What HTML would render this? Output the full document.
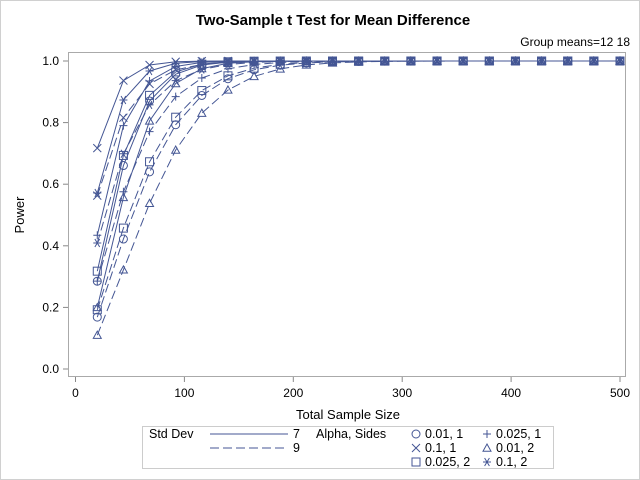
<!DOCTYPE html>
<html><head><meta charset="utf-8"><style>
body{margin:0;background:#fff}
svg{display:block;font-family:"Liberation Sans",Arial,sans-serif}
</style></head><body>
<svg id="s" width="640" height="480" xmlns="http://www.w3.org/2000/svg">
<rect x="0.5" y="0.5" width="639" height="479" fill="#fff" stroke="#d0d0d0"/>
<text x="333" y="25" text-anchor="middle" font-size="15" font-weight="bold">Two-Sample t Test for Mean Difference</text>
<text x="630" y="46" text-anchor="end" font-size="12">Group means=12 18</text>
<rect x="68.5" y="52.5" width="557" height="324" fill="none" stroke="#aaa"/>
<g id="ax" font-size="12" fill="#000"></g>
<text x="348" y="419" text-anchor="middle" font-size="13">Total Sample Size</text>
<text x="24" y="215" text-anchor="middle" font-size="13" transform="rotate(-90 24 215)">Power</text>
<g id="plot" fill="none" stroke="#445694" stroke-width="1"></g>
<rect x="142.5" y="426.5" width="411" height="42" fill="none" stroke="#ccc"/>
<g font-size="12.5">
<text x="149" y="438">Std Dev</text>
<line x1="210" y1="434" x2="288" y2="434" stroke="#445694"/>
<text x="293" y="438">7</text>
<line x1="210" y1="448" x2="288" y2="448" stroke="#445694" stroke-dasharray="9,4"/>
<text x="293" y="452">9</text>
<text x="316" y="438">Alpha, Sides</text>
<text x="425" y="438">0.01, 1</text>
<text x="496" y="438">0.025, 1</text>
<text x="425" y="452">0.1, 1</text>
<text x="496" y="452">0.01, 2</text>
<text x="425" y="466">0.025, 2</text>
<text x="496" y="466">0.1, 2</text>
</g>
<g id="leg" fill="none" stroke="#445694"></g>
</svg>
<script>
var NS="http://www.w3.org/2000/svg";
function el(p,t,a){var e=document.createElementNS(NS,t);for(var k in a)e.setAttribute(k,a[k]);p.appendChild(e);return e;}
var ax=document.getElementById('ax'),pl=document.getElementById('plot'),lg=document.getElementById('leg');
function X(v){return 75.5+v*1.089;}function Y(p){return 369-p*308;}
[0,100,200,300,400,500].forEach(function(v){el(ax,'line',{x1:X(v),y1:377,x2:X(v),y2:382,stroke:'#888'});var t=el(ax,'text',{x:X(v),y:397,'text-anchor':'middle'});t.textContent=v;});
[0,0.2,0.4,0.6,0.8,1].forEach(function(v){el(ax,'line',{x1:63,y1:Y(v),x2:68,y2:Y(v),stroke:'#888'});var t=el(ax,'text',{x:59,y:Y(v)+4,'text-anchor':'end'});t.textContent=v.toFixed(1);});
function Phi(x){var t=1/(1+0.2316419*Math.abs(x));var d=0.3989423*Math.exp(-x*x/2);var p=d*t*(0.3193815+t*(-0.3565638+t*(1.781478+t*(-1.821256+t*1.330274))));return x>0?1-p:p;}
function mk(g,type,x,y){var r=4;
if(type=='o')el(g,'circle',{cx:x,cy:y,r:r});
else if(type=='+'){el(g,'path',{d:'M'+(x-r)+' '+y+'H'+(x+r)+'M'+x+' '+(y-r)+'V'+(y+r)});}
else if(type=='x'){el(g,'path',{d:'M'+(x-r)+' '+(y-r)+'L'+(x+r)+' '+(y+r)+'M'+(x-r)+' '+(y+r)+'L'+(x+r)+' '+(y-r)});}
else if(type=='t'){el(g,'path',{d:'M'+x+' '+(y-r)+'L'+(x+r)+' '+(y+r*0.8)+'L'+(x-r)+' '+(y+r*0.8)+'Z'});}
else if(type=='s'){el(g,'rect',{x:x-r,y:y-r,width:2*r,height:2*r});}
else if(type=='*'){el(g,'path',{d:'M'+(x-r)+' '+y+'H'+(x+r)+'M'+(x-r*0.6)+' '+(y-r)+'L'+(x+r*0.6)+' '+(y+r)+'M'+(x-r*0.6)+' '+(y+r)+'L'+(x+r*0.6)+' '+(y-r)});}}
var combos=[['o',2.326],['+',1.96],['x',1.2816],['t',2.576],['s',2.241],['*',1.645]];
[7,9].forEach(function(sd){combos.forEach(function(c){var d=6/sd,pts=[];
for(var N=20;N<=500;N+=24){var df=N-2,z=c[1];var tc=z*(1+(z*z+1)/(4*df));var del=d*Math.sqrt(N/4);var p=Phi((del-tc)/Math.sqrt(1+tc*tc/(2*df)));pts.push([X(N),Y(p)]);}
var a={points:pts.map(function(q){return q[0].toFixed(1)+','+q[1].toFixed(1)}).join(' ')};if(sd==9)a['stroke-dasharray']='9,4';
el(pl,'polyline',a);pts.forEach(function(q){mk(pl,c[0],q[0],q[1]);});});});
mk(lg,'o',416,434);mk(lg,'+',487,434);mk(lg,'x',416,448);mk(lg,'t',487,448);mk(lg,'s',416,462);mk(lg,'*',487,462);
</script>
</body></html>
